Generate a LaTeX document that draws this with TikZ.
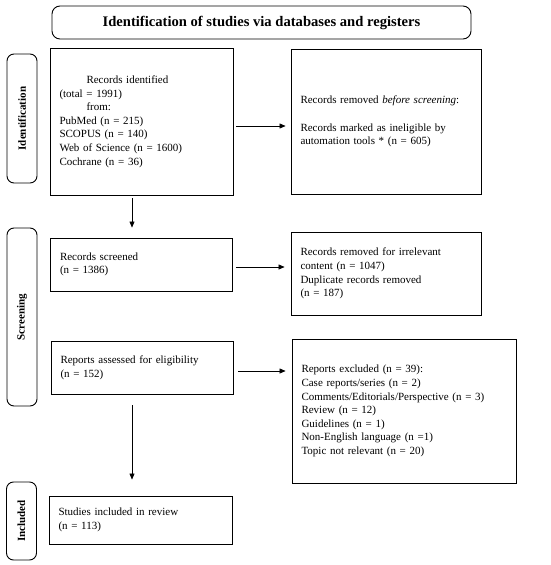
\documentclass[tikz,border=0pt]{standalone}
\usepackage{fontspec}
\setmainfont{Liberation Serif}
\usetikzlibrary{arrows.meta}
\begin{document}
\begin{tikzpicture}[x=1pt,y=-1pt,
  box/.style={draw,line width=0.9pt,rectangle,inner xsep=9.5pt,inner ysep=0pt,align=left,font=\fontsize{11}{13.6}\selectfont},
  phase/.style={draw,line width=0.9pt,rounded corners=7pt,minimum height=30pt,rotate=90,font=\fontsize{11}{13}\selectfont\bfseries,inner sep=0pt},
  arr/.style={line width=0.6pt,-{Triangle[length=6pt,width=5pt]}}]
\useasboundingbox (0,0) rectangle (550,565);
\node[draw,line width=0.9pt,rounded corners=8pt,minimum width=419pt,minimum height=33pt,font=\fontsize{14.6}{16}\selectfont\bfseries] (title) at (261.5,22.5) {Identification of studies via databases and registers};
% phase labels
\node[phase,minimum width=129pt] (pid) at (22,118.5) {Identification};
\node[phase,minimum width=178pt] (psc) at (22,317) {Screening};
\node[phase,minimum width=78pt] (pin) at (21.5,521) {Included};
% boxes
\node[box,minimum width=183pt,text width=164pt,minimum height=147pt] (ident) at (141.5,121.5) {\hspace*{27pt}Records identified\\(total = 1991)\\\hspace*{27pt}from:\\PubMed (n = 215)\\SCOPUS (n = 140)\\Web of Science (n = 1600)\\Cochrane (n = 36)};
\node[box,minimum width=190pt,text width=171pt,minimum height=145pt] (rem1) at (386,121.5) {Records removed \textit{before screening}:\\[13.6pt]Records marked as ineligible by\\automation tools * (n = 605)};
\node[box,minimum width=182pt,text width=163pt,minimum height=53pt] (screen) at (141.5,264.5) {Records screened\\(n = 1386)};
\node[box,minimum width=190pt,text width=171pt,minimum height=83pt] (rem2) at (386,273.5) {Records removed for irrelevant\\content (n = 1047)\\Duplicate records removed\\(n = 187)};
\node[box,minimum width=182pt,text width=163pt,minimum height=53pt] (assess) at (142,367.5) {Reports assessed for eligibility\\(n = 152)};
\node[box,minimum width=224pt,text width=205pt,minimum height=144pt] (excl) at (404,411) {Reports excluded (n = 39):\\Case reports/series (n = 2)\\Comments/Editorials/Perspective (n = 3)\\Review (n = 12)\\Guidelines (n = 1)\\Non-English language (n =1)\\Topic not relevant (n = 20)};
\node[box,minimum width=183pt,text width=164pt,minimum height=48pt] (incl) at (140.5,520) {Studies included in review\\(n = 113)};
% arrows
\draw[arr] ([xshift=3pt]ident.east |- 0,126) -- ([xshift=-5pt]rem1.west |- 0,126);
\draw[arr] ([xshift=3pt]screen.east |- 0,267) -- ([xshift=-6pt]rem2.west |- 0,267);
\draw[arr] ([xshift=5pt]assess.east |- 0,371) -- ([xshift=-6pt]excl.west |- 0,371);
\draw[arr] (132,0 |- ident.south) ++(0,3) -- ([yshift=10pt]132,0 |- screen.north);
\draw[arr] (132,0 |- assess.south) ++(0,11) -- ([yshift=16pt]132,0 |- incl.north);
\end{tikzpicture}
\end{document}
